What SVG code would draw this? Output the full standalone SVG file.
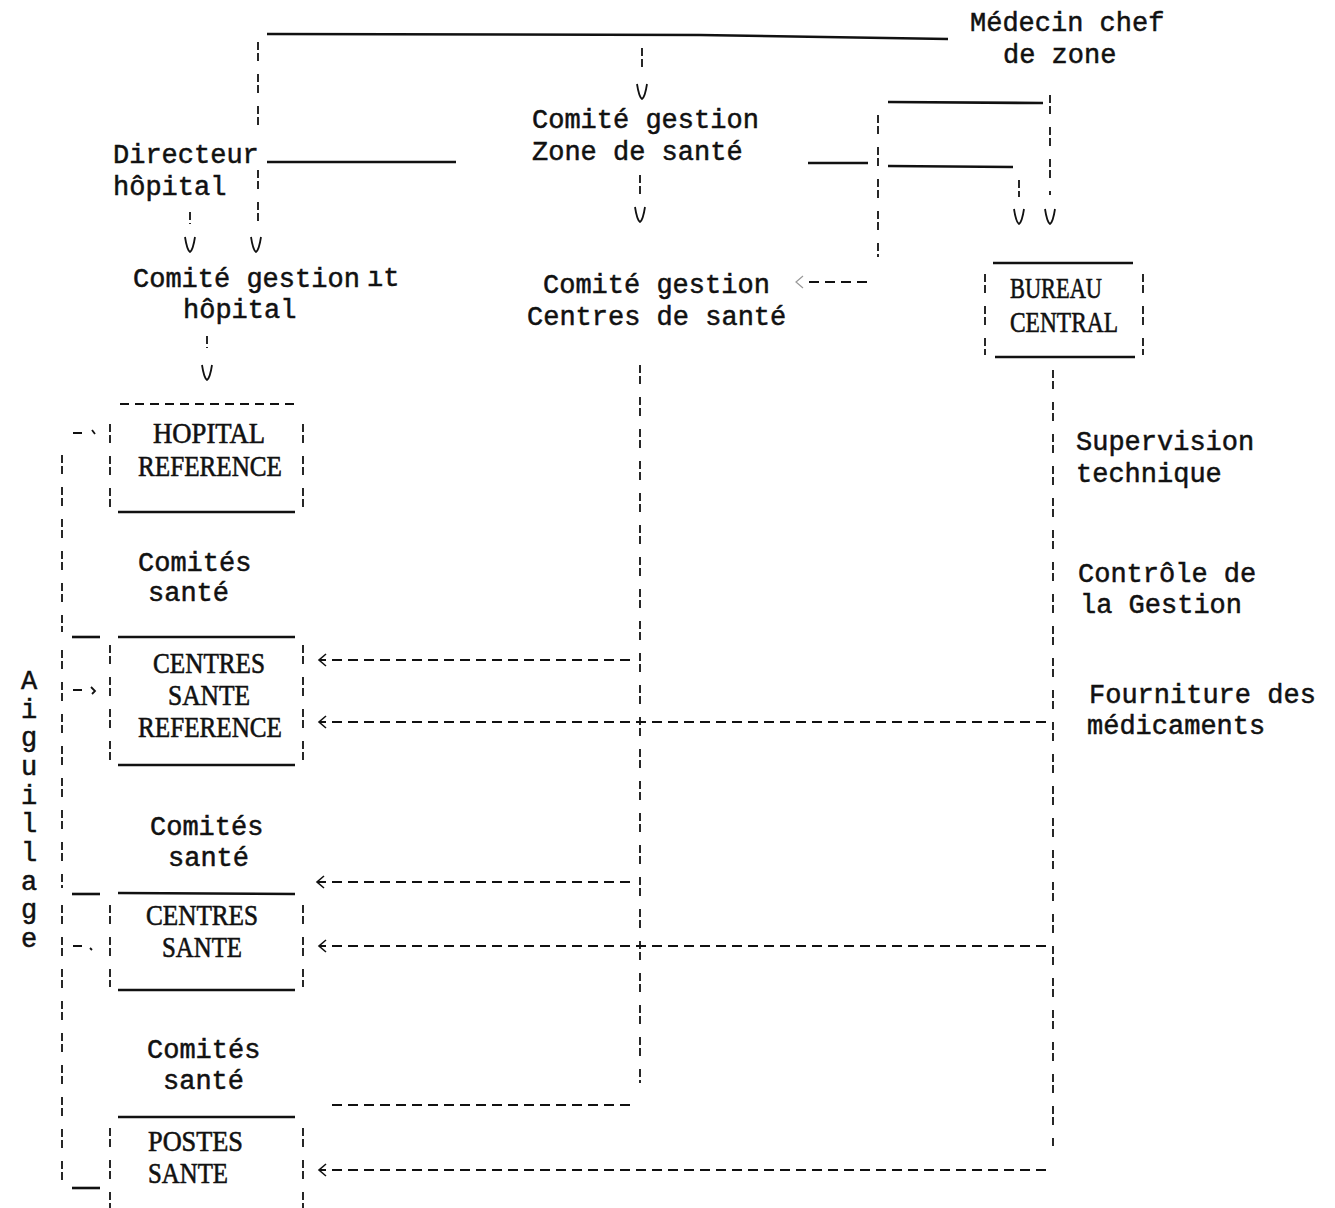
<svg xmlns="http://www.w3.org/2000/svg" width="1335" height="1208" viewBox="0 0 1335 1208">
<style>
.mono{font-family:"Liberation Mono","DejaVu Sans Mono",monospace;font-size:27px;fill:#111;stroke:#111;stroke-width:0.5}
.serif{font-family:"Liberation Serif","DejaVu Serif",serif;font-size:29px;fill:#111;stroke:#111;stroke-width:0.6}
.solid{stroke:#111;stroke-width:2.6;fill:none}
.dv{stroke:#111;stroke-width:1.8;fill:none;stroke-dasharray:8 3 8 13}
.dh{stroke:#111;stroke-width:2.2;fill:none;stroke-dasharray:10 6}
.vh{stroke:#111;stroke-width:1.8;fill:none}
</style>
<defs>
<path id="vee" d="M-5,-8 Q-3,5 0,7 Q3,5 5,-8" class="vh"/>
<marker id="chev" markerUnits="userSpaceOnUse" markerWidth="12" markerHeight="14" refX="0" refY="7" orient="auto" overflow="visible">
<path d="M-7,1 L0,7 L-7,13" fill="none" stroke="#111" stroke-width="1.6"/>
</marker>
</defs>
<rect width="1335" height="1208" fill="#fff"/>

<g id="connectors">
<polyline class="solid" points="267,34 700,35 948,39"/>
<line class="dv" x1="258" y1="42" x2="258" y2="127"/>
<line class="dv" x1="258" y1="170" x2="258" y2="230"/>
<use href="#vee" x="256" y="245"/>
<line class="dv" x1="190" y1="212" x2="190" y2="224"/>
<use href="#vee" x="190" y="245"/>
<line class="solid" x1="267" y1="162" x2="456" y2="162"/>
<line class="dv" x1="642" y1="48" x2="642" y2="68"/>
<use href="#vee" x="642" y="92"/>
<line class="dv" x1="640" y1="175" x2="640" y2="196"/>
<use href="#vee" x="640" y="215"/>
<line class="dv" x1="207" y1="336" x2="207" y2="348"/>
<use href="#vee" x="207" y="373"/>
<line class="solid" x1="808" y1="163" x2="868" y2="163"/>
<line class="solid" x1="888" y1="166" x2="1013" y2="167"/>
<line class="solid" x1="888" y1="102" x2="1043" y2="103"/>
<line class="dv" x1="878" y1="115" x2="878" y2="257"/>
<line class="dh" x1="867" y1="282" x2="804" y2="282"/>
<path d="M803,276 L796,282 L803,288" fill="none" stroke="#999" stroke-width="1.2"/>
<line class="dv" x1="1050" y1="95" x2="1050" y2="195"/>
<use href="#vee" x="1050" y="217"/>
<line class="dv" x1="1019" y1="180" x2="1019" y2="197"/>
<use href="#vee" x="1019" y="217"/>
<line class="dv" x1="1053" y1="370" x2="1053" y2="1147"/>
<line class="dv" x1="640" y1="365" x2="640" y2="1083"/>
<line class="dh" x1="630" y1="660" x2="319" y2="660" marker-end="url(#chev)"/>
<line class="dh" x1="1046" y1="722" x2="319" y2="722" marker-end="url(#chev)"/>
<line class="dh" x1="630" y1="882" x2="317" y2="882" marker-end="url(#chev)"/>
<line class="dh" x1="1046" y1="946" x2="319" y2="946" marker-end="url(#chev)"/>
<line class="dh" x1="630" y1="1105" x2="332" y2="1105"/>
<line class="dh" x1="1046" y1="1170" x2="319" y2="1170" marker-end="url(#chev)"/>
<line class="dv" x1="62" y1="455" x2="62" y2="632"/>
<line class="dv" x1="62" y1="650" x2="62" y2="888"/>
<line class="dv" x1="62" y1="905" x2="62" y2="1192"/>
<line class="solid" x1="72" y1="637" x2="100" y2="637"/>
<line class="solid" x1="72" y1="894" x2="100" y2="894"/>
<line class="solid" x1="72" y1="1188" x2="100" y2="1188"/>
<path class="vh" d="M73,433 L82,433 M92,430 L95,434"/>
<path class="vh" d="M73,690 L82,690 M91,687 L95,691 L92,694"/>
<path class="vh" d="M73,946 L82,946 M90,948 L92,950"/>
</g>

<g id="medecin">
<text class="mono" x="970" y="31">Médecin chef</text>
<text class="mono" x="1003" y="63">de zone</text>
</g>
<g id="comite-zone">
<text class="mono" x="532" y="128">Comité gestion</text>
<text class="mono" x="532" y="160">Zone de santé</text>
</g>
<g id="directeur">
<text class="mono" x="113" y="163">Directeur</text>
<text class="mono" x="113" y="195">hôpital</text>
</g>
<g id="comite-hopital">
<text class="mono" x="133" y="287">Comité gestion</text>
<text class="mono" x="367" y="286" font-size="18">ıt</text>
<text class="mono" x="183" y="318">hôpital</text>
</g>
<g id="comite-centres">
<text class="mono" x="543" y="293">Comité gestion</text>
<text class="mono" x="527" y="325">Centres de santé</text>
</g>
<g id="bureau-central">
<line class="solid" x1="993" y1="263" x2="1133" y2="263"/>
<line class="dv" x1="985" y1="274" x2="985" y2="355"/>
<line class="dv" x1="1143" y1="274" x2="1143" y2="355"/>
<line class="solid" x1="995" y1="357" x2="1135" y2="357"/>
<text class="serif" x="1010" y="298" textLength="92" lengthAdjust="spacingAndGlyphs">BUREAU</text>
<text class="serif" x="1010" y="332" textLength="108" lengthAdjust="spacingAndGlyphs">CENTRAL</text>
</g>
<g id="labels-right">
<text class="mono" x="1076" y="450">Supervision</text>
<text class="mono" x="1076" y="482">technique</text>
<text class="mono" x="1078" y="582">Contrôle de</text>
<text class="mono" x="1080" y="613">la Gestion</text>
<text class="mono" x="1089" y="703">Fourniture des</text>
<text class="mono" x="1087" y="734">médicaments</text>
</g>
<g id="hopital-reference">
<line class="dh" x1="120" y1="404" x2="295" y2="404" style="stroke-dasharray:9 6"/>
<line class="dv" x1="110" y1="424" x2="110" y2="508"/>
<line class="dv" x1="303" y1="424" x2="303" y2="510"/>
<line class="solid" x1="118" y1="512" x2="295" y2="512"/>
<text class="serif" x="153" y="443" textLength="112" lengthAdjust="spacingAndGlyphs">HOPITAL</text>
<text class="serif" x="138" y="476" textLength="144" lengthAdjust="spacingAndGlyphs">REFERENCE</text>
</g>
<g id="comites-1">
<text class="mono" x="138" y="571">Comités</text>
<text class="mono" x="148" y="601">santé</text>
</g>
<g id="centres-sante-reference">
<line class="solid" x1="118" y1="637" x2="295" y2="637"/>
<line class="dv" x1="110" y1="645" x2="110" y2="762"/>
<line class="dv" x1="303" y1="645" x2="303" y2="765"/>
<line class="solid" x1="118" y1="765" x2="295" y2="765"/>
<text class="serif" x="153" y="673" textLength="112" lengthAdjust="spacingAndGlyphs">CENTRES</text>
<text class="serif" x="168" y="705" textLength="82" lengthAdjust="spacingAndGlyphs">SANTE</text>
<text class="serif" x="138" y="737" textLength="144" lengthAdjust="spacingAndGlyphs">REFERENCE</text>
</g>
<g id="comites-2">
<text class="mono" x="150" y="835">Comités</text>
<text class="mono" x="168" y="866">santé</text>
</g>
<g id="centres-sante">
<line class="solid" x1="118" y1="893" x2="295" y2="894"/>
<line class="dv" x1="110" y1="905" x2="110" y2="987"/>
<line class="dv" x1="303" y1="905" x2="303" y2="987"/>
<line class="solid" x1="118" y1="990" x2="295" y2="990"/>
<text class="serif" x="146" y="925" textLength="112" lengthAdjust="spacingAndGlyphs">CENTRES</text>
<text class="serif" x="162" y="957" textLength="80" lengthAdjust="spacingAndGlyphs">SANTE</text>
</g>
<g id="comites-3">
<text class="mono" x="147" y="1058">Comités</text>
<text class="mono" x="163" y="1089">santé</text>
</g>
<g id="postes-sante">
<line class="solid" x1="118" y1="1117" x2="295" y2="1117"/>
<line class="dv" x1="110" y1="1128" x2="110" y2="1208"/>
<line class="dv" x1="303" y1="1128" x2="303" y2="1208"/>
<text class="serif" x="148" y="1151" textLength="95" lengthAdjust="spacingAndGlyphs">POSTES</text>
<text class="serif" x="148" y="1183" textLength="80" lengthAdjust="spacingAndGlyphs">SANTE</text>
</g>
<g id="aiguillage">
<text class="mono" text-anchor="middle" font-size="26"><tspan x="29" y="689">A</tspan><tspan x="29" y="718">i</tspan><tspan x="29" y="746">g</tspan><tspan x="29" y="775">u</tspan><tspan x="29" y="804">i</tspan><tspan x="29" y="832">l</tspan><tspan x="29" y="861">l</tspan><tspan x="29" y="890">a</tspan><tspan x="29" y="918">g</tspan><tspan x="29" y="947">e</tspan></text>
</g>
</svg>
